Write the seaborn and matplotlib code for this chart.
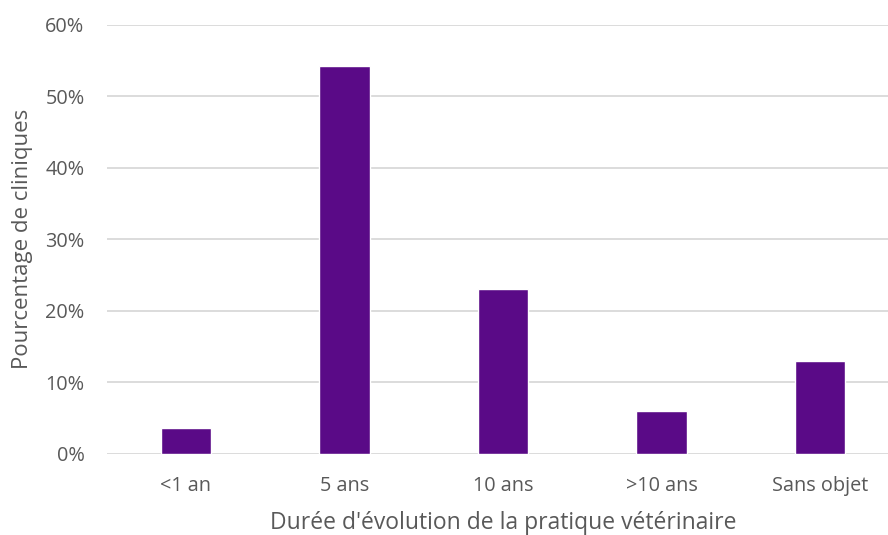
import matplotlib
matplotlib.use("Agg")
import matplotlib.pyplot as plt
import seaborn as sns
import pandas as pd
from matplotlib.ticker import PercentFormatter

categories = ["<1 an", "5 ans", "10 ans", ">10 ans", "Sans objet"]
values = [3.6, 54.3, 23.1, 6.0, 12.9]

sns.set_theme(style="white")
plt.rcParams['font.family'] = ['Open Sans', 'DejaVu Sans']

df = pd.DataFrame({"cat": categories, "val": values})

fig = plt.figure(figsize=(8.88, 5.35), dpi=100)
ax = fig.add_axes([0.1202, 0.1523, 0.8925, 0.801])
sns.barplot(data=df, x="cat", y="val", color="#5A0A87", width=0.32,
            saturation=1, ax=ax, zorder=3)
ax.set_ylim(0, 60)
ax.set_yticks([0, 10, 20, 30, 40, 50, 60])
ax.yaxis.set_major_formatter(PercentFormatter(decimals=0))
ax.grid(axis="y", color="#D9D9D9", linewidth=1.3, zorder=0)
ax.set_axisbelow(True)
for s in ax.spines.values():
    s.set_visible(False)
ax.tick_params(axis="both", length=0, labelsize=14.3, colors="#595959")
ax.tick_params(axis="y", pad=16)
ax.tick_params(axis="x", pad=16)
ax.set_xlabel("Durée d'évolution de la pratique vétérinaire", fontsize=16.5, color="#595959", labelpad=11)
ax.set_ylabel("Pourcentage de cliniques", fontsize=16, color="#595959", labelpad=9)
ax.set_xlim(-0.5, 4.5)
fig.savefig("out.png", dpi=100)
